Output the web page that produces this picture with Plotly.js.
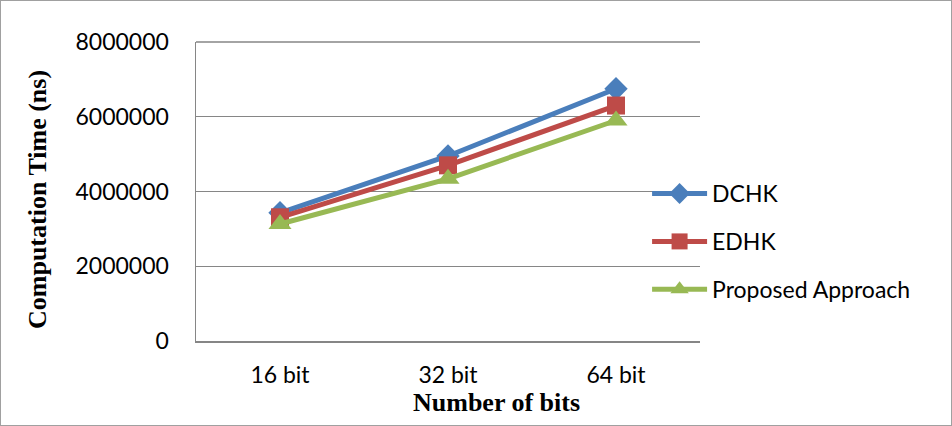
<!DOCTYPE html>
<html><head><meta charset="utf-8">
<script src="https://cdn.plot.ly/plotly-3.0.1.min.js"></script>
<style>
html,body{margin:0;padding:0;background:#fff;}
#chart{width:952px;height:426px;box-sizing:border-box;border:1px solid #a0a0a0;}
</style></head>
<body><div id="chart"></div>
<script>
const categories = ["16 bit", "32 bit", "64 bit"];
const dchk = [3430000, 4950000, 6750000];
const edhk = [3310000, 4700000, 6300000];
const proposed = [3130000, 4340000, 5900000];
const seriesNames = ["DCHK", "EDHK", "Proposed Approach"];
const yTicks = [0, 2000000, 4000000, 6000000, 8000000];

const colors = ["#4a7ebb", "#be4b48", "#98b954"];
const symbols = ["diamond", "square", "triangle-up"];
const sizes = [18, 18, 20];
const allSeries = [dchk, edhk, proposed];

const traces = allSeries.map((vals, i) => ({
  x: categories, y: vals, name: seriesNames[i], type: "scatter", mode: "lines+markers",
  legendgroup: "g" + i,
  line: {color: colors[i], width: 5},
  marker: {symbol: symbols[i], size: sizes[i], color: colors[i]}
}));

const layout = {
  width: 950, height: 424,
  margin: {l: 195, r: 251, t: 41, b: 84},
  paper_bgcolor: "#fff", plot_bgcolor: "#fff",
  font: {family: "Lato, 'Liberation Sans', sans-serif", size: 23, color: "#000"},
  showlegend: true,
  legend: {x: 0.895, xanchor: "left", y: 0.565, yanchor: "top", font: {size: 23},
           itemwidth: 55, tracegroupgap: 15, bgcolor: "rgba(0,0,0,0)"},
  xaxis: {type: "category", showgrid: false, zeroline: false, showline: true,
          linecolor: "#868686", linewidth: 1.5, ticks: "", ticklabelstandoff: 13,
          range: [-0.5, 2.5]},
  yaxis: {range: [0, 8000000], tickvals: yTicks, ticktext: yTicks.map(String),
          showgrid: true, gridcolor: "#868686", gridwidth: 1.3, zeroline: false,
          showline: true, linecolor: "#868686", linewidth: 1.5, ticks: "",
          ticklabelstandoff: 21, mirror: false},
  shapes: [{type: "line", xref: "paper", yref: "paper", x0: 0, x1: 1, y0: 1, y1: 1,
            line: {color: "#868686", width: 1.3}}],
  annotations: [
    {text: "<b>Computation Time (ns)</b>", xref: "paper", yref: "paper",
     x: (37 - 196) / 504, y: (341 - 200) / 299, textangle: -90, showarrow: false,
     xanchor: "center", yanchor: "middle",
     font: {family: "'Liberation Serif', 'Times New Roman', serif", size: 26, color: "#000"}},
    {text: "<b>Number of bits</b>", xref: "paper", yref: "paper",
     x: (496 - 196) / 504, y: (341 - 402) / 299, showarrow: false,
     xanchor: "center", yanchor: "middle",
     font: {family: "'Liberation Serif', 'Times New Roman', serif", size: 26, color: "#000"}}
  ]
};

Plotly.newPlot("chart", traces, layout, {displayModeBar: false, staticPlot: true});
</script></body></html>
